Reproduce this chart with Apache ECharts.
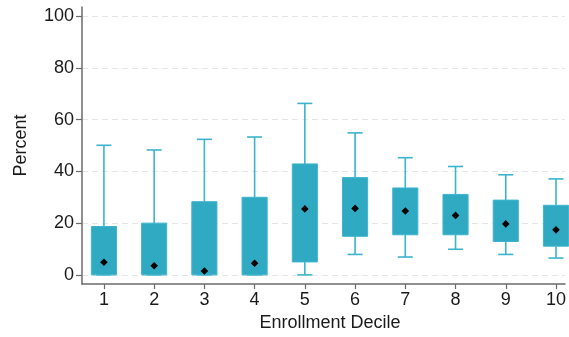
<!DOCTYPE html>
<html>
<head>
<meta charset="utf-8">
<script src="https://cdn.jsdelivr.net/npm/echarts@6/dist/echarts.min.js"></script>
<style>
  html, body { margin: 0; padding: 0; background: #fff; }
  #chart { width: 569px; height: 337px; }
</style>
</head>
<body>
<div id="chart"></div>
<script>
// Enrollment deciles and box statistics (percent)
const deciles = [1, 2, 3, 4, 5, 6, 7, 8, 9, 10];
const whiskerLow  = [0, 0, 0, 0, 0, 7.9, 6.9, 9.9, 7.9, 6.5];
const quartile1   = [0, 0, 0, 0, 5.0, 14.9, 15.5, 15.5, 12.9, 11.1];
const quartile3   = [18.7, 20.0, 28.3, 30.0, 42.9, 37.6, 33.6, 31.1, 28.9, 26.9];
const whiskerHigh = [50.1, 48.3, 52.4, 53.3, 66.3, 54.9, 45.3, 41.9, 38.7, 37.1];
const meanValues  = [4.9, 3.5, 1.5, 4.5, 25.5, 25.7, 24.7, 23.0, 19.7, 17.4];
const yTicks = [0, 20, 40, 60, 80, 100];

const FONT = '"Liberation Sans", Arial, sans-serif';
const TEXT = '#1a1a1a';
const AXIS = '#6b6b6b';
const BOX_FILL = '#30a9c3';
const BOX_EDGE = '#3fb5cd';
const WHISKER = '#3cb4cc';

const rows = deciles.map((d, i) => [d, whiskerLow[i], quartile1[i], quartile3[i], whiskerHigh[i], meanValues[i]]);

function renderBox(params, api) {
  const x = api.value(0);
  const lo = api.coord([x, api.value(1)]);
  const q1 = api.coord([x, api.value(2)]);
  const q3 = api.coord([x, api.value(3)]);
  const hi = api.coord([x, api.value(4)]);
  const mean = api.coord([x, api.value(5)]);
  const boxW = api.size([0.5, 0])[0];
  const capW = api.size([0.3, 0])[0];
  const cx = lo[0];
  const lineStyle = { stroke: WHISKER, lineWidth: 1.6 };
  const d = 3.8;
  return {
    type: 'group',
    children: [
      { type: 'line', shape: { x1: cx, y1: q3[1], x2: cx, y2: hi[1] }, style: lineStyle },
      { type: 'line', shape: { x1: cx - capW / 2, y1: hi[1], x2: cx + capW / 2, y2: hi[1] }, style: lineStyle },
      { type: 'line', shape: { x1: cx, y1: q1[1], x2: cx, y2: lo[1] }, style: lineStyle },
      { type: 'line', shape: { x1: cx - capW / 2, y1: lo[1], x2: cx + capW / 2, y2: lo[1] }, style: lineStyle },
      {
        type: 'rect',
        shape: { x: cx - boxW / 2, y: q3[1], width: boxW, height: q1[1] - q3[1] },
        style: { fill: BOX_FILL, stroke: BOX_EDGE, lineWidth: 1 }
      },
      {
        type: 'polygon',
        shape: { points: [[mean[0], mean[1] - d], [mean[0] + d, mean[1]], [mean[0], mean[1] + d], [mean[0] - d, mean[1]]] },
        style: { fill: '#000' }
      }
    ]
  };
}

const chart = echarts.init(document.getElementById('chart'), null, { renderer: 'canvas' });
chart.setOption({
  animation: false,
  backgroundColor: '#fff',
  grid: { left: 82, right: 2, top: 7, bottom: 51, containLabel: false },
  xAxis: {
    type: 'value',
    min: 0.5635,
    max: 10.18,
    name: 'Enrollment Decile',
    nameLocation: 'middle',
    nameGap: 26,
    nameTextStyle: { fontFamily: FONT, fontSize: 18, color: TEXT, padding: [0, 0, 0, 13] },
    axisLine: { show: true, onZero: false, lineStyle: { color: AXIS, width: 1.5 } },
    axisTick: { show: true, length: 5, customValues: deciles, lineStyle: { color: AXIS, width: 1.2 } },
    axisLabel: { customValues: deciles, margin: 7, fontFamily: FONT, fontSize: 18, color: TEXT },
    splitLine: { show: false }
  },
  yAxis: {
    type: 'value',
    min: -3.57,
    max: 103.57,
    name: 'Percent',
    nameLocation: 'middle',
    nameGap: 52,
    nameRotate: 90,
    nameTextStyle: { fontFamily: FONT, fontSize: 18, color: TEXT },
    axisLine: { show: true, onZero: false, lineStyle: { color: AXIS, width: 1.5 } },
    axisTick: { show: true, length: 6, customValues: yTicks, lineStyle: { color: AXIS, width: 1.2 } },
    axisLabel: { customValues: yTicks, margin: 8, fontFamily: FONT, fontSize: 18, color: TEXT },
    splitLine: { show: true, lineStyle: { color: '#e6e6e6', width: 1, type: [6, 4] } }
  },
  series: [{
    type: 'custom',
    clip: false,
    renderItem: renderBox,
    encode: { x: 0, y: [1, 2, 3, 4, 5] },
    data: rows
  }]
});
</script>
</body>
</html>
